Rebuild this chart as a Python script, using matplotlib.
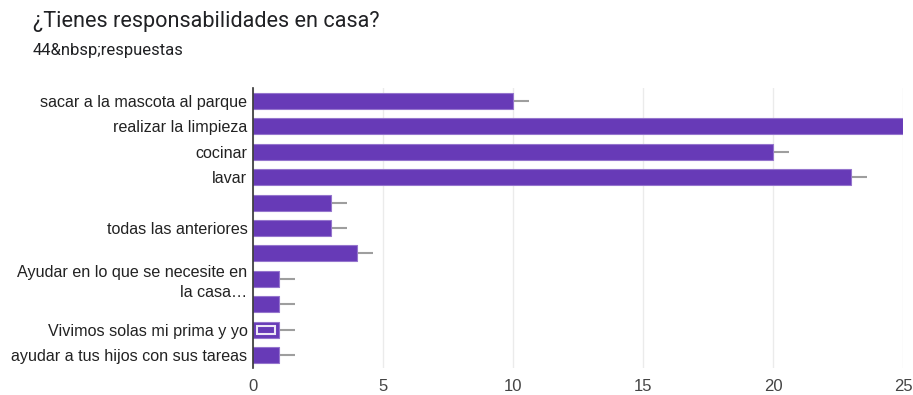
import matplotlib
matplotlib.use("Agg")
import matplotlib.pyplot as plt
import numpy as np

categories = [
    "sacar a la mascota al parque",
    "realizar la limpieza",
    "cocinar",
    "lavar",
    "",
    "todas las anteriores",
    "",
    "Ayudar en lo que se necesite en\nla casa…",
    "",
    "Vivimos solas mi prima y yo",
    "ayudar a tus hijos con sus tareas",
]
values = [10, 25, 20, 23, 3, 3, 4, 1, 1, 1, 1]
err_len = [0.6] * len(values)
xticks = [0, 5, 10, 15, 20, 25]

plt.rcParams['font.family'] = ['Liberation Sans', 'DejaVu Sans']

fig = plt.figure(figsize=(9.13, 3.95), dpi=100)
W, H = 913, 395
ax = fig.add_axes([253 / W, 1 - 368 / H, 650 / W, 280 / H])

y = np.arange(len(values))
purple = "#673ab7"
ax.barh(y, values, height=0.63, color=purple, edgecolor="#9575cd", linewidth=0.8, zorder=3)
ax.errorbar(values, y, xerr=[np.zeros(len(values)), err_len], fmt="none",
            ecolor="#9e9e9e", elinewidth=1.5, capsize=0, zorder=2)

# highlighted (focused) bar
hi = categories.index("Vivimos solas mi prima y yo")
ax.barh([hi], [values[hi] * 0.72], left=values[hi] * 0.14, height=0.32,
        facecolor="none", edgecolor="#ede7f6", linewidth=1.5, zorder=4)

ax.set_ylim(len(values) - 0.5, -0.5)
ax.set_xlim(0, 25)
ax.set_yticks(y)
ax.set_yticklabels(categories, fontsize=11.6, color="#222222", linespacing=1.4)
ax.set_xticks(xticks)
ax.set_xticklabels([str(t) for t in xticks], fontsize=12, color="#444444")
ax.tick_params(axis="both", length=0)
ax.tick_params(axis="y", pad=4)
ax.tick_params(axis="x", pad=8)

ax.grid(axis="x", color="#ebebeb", linewidth=1, zorder=0)
ax.set_axisbelow(True)
for s in ["top", "right", "bottom"]:
    ax.spines[s].set_visible(False)
ax.spines["left"].set_color("#333333")
ax.spines["left"].set_linewidth(1.2)
ax.spines["left"].set_zorder(5)

fig.text(33 / W, 1 - 22 / H, "¿Tienes responsabilidades en casa?", fontsize=15.6,
         color="#202124", va="center", ha="left", family=["Roboto", "DejaVu Sans"])
fig.text(33 / W, 1 - 50 / H, "44&nbsp;respuestas", fontsize=12,
         color="#202124", va="center", ha="left", family=["Roboto", "DejaVu Sans"])

fig.savefig("out.png", dpi=100)
